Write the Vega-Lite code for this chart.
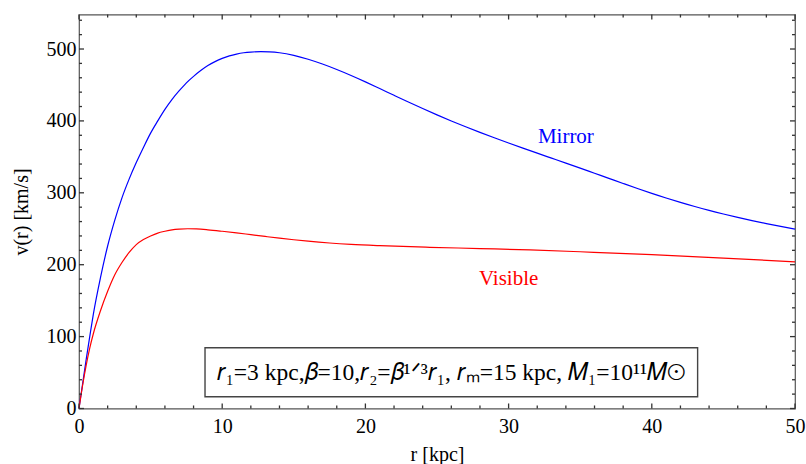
{
  "$schema": "https://vega.github.io/schema/vega-lite/v6.json",
  "width": 716,
  "height": 394,
  "autosize": {"type": "none"},
  "padding": {"left": 79, "top": 14.5, "right": 11, "bottom": 55.5},
  "background": "white",
  "config": {
    "view": {"stroke": "#555555", "strokeWidth": 1.2},
    "font": "Liberation Serif",
    "axis": {"grid": false, "domain": false, "ticks": false, "labelColor": "black", "titleColor": "black"}
  },
  "datasets": {
    "curves": [
      {"r": 0, "v": 0, "series": "Mirror"},
      {"r": 0.25, "v": 34, "series": "Mirror"},
      {"r": 0.5, "v": 68, "series": "Mirror"},
      {"r": 0.75, "v": 100, "series": "Mirror"},
      {"r": 1, "v": 131, "series": "Mirror"},
      {"r": 1.5, "v": 182, "series": "Mirror"},
      {"r": 2, "v": 226, "series": "Mirror"},
      {"r": 2.5, "v": 262, "series": "Mirror"},
      {"r": 3, "v": 293, "series": "Mirror"},
      {"r": 3.5, "v": 319, "series": "Mirror"},
      {"r": 4, "v": 342, "series": "Mirror"},
      {"r": 4.5, "v": 363, "series": "Mirror"},
      {"r": 5, "v": 383, "series": "Mirror"},
      {"r": 5.5, "v": 400, "series": "Mirror"},
      {"r": 6, "v": 416, "series": "Mirror"},
      {"r": 6.5, "v": 430, "series": "Mirror"},
      {"r": 7, "v": 442, "series": "Mirror"},
      {"r": 7.5, "v": 453, "series": "Mirror"},
      {"r": 8, "v": 462, "series": "Mirror"},
      {"r": 8.5, "v": 470, "series": "Mirror"},
      {"r": 9, "v": 477, "series": "Mirror"},
      {"r": 9.5, "v": 482.5, "series": "Mirror"},
      {"r": 10, "v": 487, "series": "Mirror"},
      {"r": 10.5, "v": 490.5, "series": "Mirror"},
      {"r": 11, "v": 493, "series": "Mirror"},
      {"r": 11.5, "v": 494.8, "series": "Mirror"},
      {"r": 12, "v": 495.8, "series": "Mirror"},
      {"r": 12.7, "v": 496.3, "series": "Mirror"},
      {"r": 13.3, "v": 496, "series": "Mirror"},
      {"r": 14, "v": 494.8, "series": "Mirror"},
      {"r": 15, "v": 491.2, "series": "Mirror"},
      {"r": 16, "v": 485.8, "series": "Mirror"},
      {"r": 17, "v": 479.1, "series": "Mirror"},
      {"r": 18, "v": 471.5, "series": "Mirror"},
      {"r": 19, "v": 463.2, "series": "Mirror"},
      {"r": 20, "v": 454.3, "series": "Mirror"},
      {"r": 21, "v": 445, "series": "Mirror"},
      {"r": 22, "v": 435.6, "series": "Mirror"},
      {"r": 23, "v": 426.3, "series": "Mirror"},
      {"r": 24, "v": 417.2, "series": "Mirror"},
      {"r": 25, "v": 408.4, "series": "Mirror"},
      {"r": 26, "v": 399.9, "series": "Mirror"},
      {"r": 27, "v": 391.8, "series": "Mirror"},
      {"r": 28, "v": 384, "series": "Mirror"},
      {"r": 29, "v": 376.5, "series": "Mirror"},
      {"r": 30, "v": 369.2, "series": "Mirror"},
      {"r": 31, "v": 362.1, "series": "Mirror"},
      {"r": 32, "v": 355.1, "series": "Mirror"},
      {"r": 33, "v": 348.2, "series": "Mirror"},
      {"r": 34, "v": 341.3, "series": "Mirror"},
      {"r": 35, "v": 334.3, "series": "Mirror"},
      {"r": 36, "v": 327.2, "series": "Mirror"},
      {"r": 37, "v": 320.1, "series": "Mirror"},
      {"r": 38, "v": 313, "series": "Mirror"},
      {"r": 39, "v": 306, "series": "Mirror"},
      {"r": 40, "v": 299.2, "series": "Mirror"},
      {"r": 41, "v": 292.8, "series": "Mirror"},
      {"r": 42, "v": 286.7, "series": "Mirror"},
      {"r": 43, "v": 280.9, "series": "Mirror"},
      {"r": 44, "v": 275.5, "series": "Mirror"},
      {"r": 45, "v": 270.5, "series": "Mirror"},
      {"r": 46, "v": 265.8, "series": "Mirror"},
      {"r": 47, "v": 261.4, "series": "Mirror"},
      {"r": 48, "v": 257.2, "series": "Mirror"},
      {"r": 49, "v": 253.3, "series": "Mirror"},
      {"r": 50, "v": 249.6, "series": "Mirror"},
      {"r": 0, "v": 0, "series": "Visible"},
      {"r": 0.25, "v": 32, "series": "Visible"},
      {"r": 0.5, "v": 60, "series": "Visible"},
      {"r": 0.75, "v": 84, "series": "Visible"},
      {"r": 1, "v": 104, "series": "Visible"},
      {"r": 1.5, "v": 136, "series": "Visible"},
      {"r": 2, "v": 163, "series": "Visible"},
      {"r": 2.5, "v": 186, "series": "Visible"},
      {"r": 3, "v": 203, "series": "Visible"},
      {"r": 3.5, "v": 217, "series": "Visible"},
      {"r": 4, "v": 228, "series": "Visible"},
      {"r": 4.5, "v": 235, "series": "Visible"},
      {"r": 5, "v": 240, "series": "Visible"},
      {"r": 5.5, "v": 244, "series": "Visible"},
      {"r": 6, "v": 246.5, "series": "Visible"},
      {"r": 6.5, "v": 248.5, "series": "Visible"},
      {"r": 7, "v": 249.5, "series": "Visible"},
      {"r": 7.6, "v": 250, "series": "Visible"},
      {"r": 8.2, "v": 249.7, "series": "Visible"},
      {"r": 9, "v": 248.5, "series": "Visible"},
      {"r": 10, "v": 246.5, "series": "Visible"},
      {"r": 11, "v": 244.3, "series": "Visible"},
      {"r": 12, "v": 241.8, "series": "Visible"},
      {"r": 13, "v": 239.3, "series": "Visible"},
      {"r": 14, "v": 236.9, "series": "Visible"},
      {"r": 15, "v": 234.7, "series": "Visible"},
      {"r": 16, "v": 232.7, "series": "Visible"},
      {"r": 17.5, "v": 230.2, "series": "Visible"},
      {"r": 19, "v": 228.3, "series": "Visible"},
      {"r": 21, "v": 226.5, "series": "Visible"},
      {"r": 24.5, "v": 224.2, "series": "Visible"},
      {"r": 28, "v": 222.5, "series": "Visible"},
      {"r": 31.5, "v": 220.6, "series": "Visible"},
      {"r": 35, "v": 218, "series": "Visible"},
      {"r": 40, "v": 214, "series": "Visible"},
      {"r": 45, "v": 209.2, "series": "Visible"},
      {"r": 50, "v": 204, "series": "Visible"}
    ],
    "rTicks": [
      {"t": 0, "kind": "major"}, {"t": 2, "kind": "minor"}, {"t": 4, "kind": "minor"}, {"t": 6, "kind": "minor"}, {"t": 8, "kind": "minor"},
      {"t": 10, "kind": "major"}, {"t": 12, "kind": "minor"}, {"t": 14, "kind": "minor"}, {"t": 16, "kind": "minor"}, {"t": 18, "kind": "minor"},
      {"t": 20, "kind": "major"}, {"t": 22, "kind": "minor"}, {"t": 24, "kind": "minor"}, {"t": 26, "kind": "minor"}, {"t": 28, "kind": "minor"},
      {"t": 30, "kind": "major"}, {"t": 32, "kind": "minor"}, {"t": 34, "kind": "minor"}, {"t": 36, "kind": "minor"}, {"t": 38, "kind": "minor"},
      {"t": 40, "kind": "major"}, {"t": 42, "kind": "minor"}, {"t": 44, "kind": "minor"}, {"t": 46, "kind": "minor"}, {"t": 48, "kind": "minor"},
      {"t": 50, "kind": "major"}
    ],
    "vTicks": [
      {"t": 0, "kind": "major"}, {"t": 20, "kind": "minor"}, {"t": 40, "kind": "minor"}, {"t": 60, "kind": "minor"}, {"t": 80, "kind": "minor"},
      {"t": 100, "kind": "major"}, {"t": 120, "kind": "minor"}, {"t": 140, "kind": "minor"}, {"t": 160, "kind": "minor"}, {"t": 180, "kind": "minor"},
      {"t": 200, "kind": "major"}, {"t": 220, "kind": "minor"}, {"t": 240, "kind": "minor"}, {"t": 260, "kind": "minor"}, {"t": 280, "kind": "minor"},
      {"t": 300, "kind": "major"}, {"t": 320, "kind": "minor"}, {"t": 340, "kind": "minor"}, {"t": 360, "kind": "minor"}, {"t": 380, "kind": "minor"},
      {"t": 400, "kind": "major"}, {"t": 420, "kind": "minor"}, {"t": 440, "kind": "minor"}, {"t": 460, "kind": "minor"}, {"t": 480, "kind": "minor"},
      {"t": 500, "kind": "major"}, {"t": 520, "kind": "minor"}, {"t": 540, "kind": "minor"}
    ]
  },
  "layer": [
    {
      "data": {"name": "curves"},
      "mark": {"type": "line", "strokeWidth": 1.2, "interpolate": "monotone"},
      "encoding": {
        "x": {"field": "r", "type": "quantitative", "scale": {"domain": [0, 50], "nice": false, "zero": false},
              "axis": {"orient": "bottom", "values": [0, 10, 20, 30, 40, 50], "labelPadding": 7.5, "labelFontSize": 20, "labelFlush": false, "labelOverlap": false,
                       "title": "r [kpc]", "titleFontSize": 20, "titleFontWeight": "normal", "titlePadding": 8}},
        "y": {"field": "v", "type": "quantitative", "scale": {"domain": [0, 548], "nice": false},
              "axis": {"orient": "left", "values": [0, 100, 200, 300, 400, 500], "labelPadding": 3, "labelFontSize": 20, "labelOverlap": false,
                       "title": "v(r) [km/s]", "titleFontSize": 20, "titleFontWeight": "normal", "titlePadding": 15}},
        "color": {"field": "series", "type": "nominal", "scale": {"domain": ["Mirror", "Visible"], "range": ["#0000ff", "#ff0000"]}, "legend": null}
      }
    },
    {
      "data": {"name": "rTicks"},
      "transform": [{"filter": "datum.kind === 'major'"}],
      "mark": {"type": "rule", "color": "#333333", "strokeWidth": 1.3},
      "encoding": {
        "x": {"field": "t", "type": "quantitative", "axis": null},
        "y": {"datum": 0, "type": "quantitative", "axis": null},
        "y2": {"datum": 7}
      }
    },
    {
      "data": {"name": "rTicks"},
      "transform": [{"filter": "datum.kind === 'minor'"}],
      "mark": {"type": "rule", "color": "#333333", "strokeWidth": 1.3},
      "encoding": {
        "x": {"field": "t", "type": "quantitative", "axis": null},
        "y": {"datum": 0, "type": "quantitative", "axis": null},
        "y2": {"datum": 4.2}
      }
    },
    {
      "data": {"name": "rTicks"},
      "transform": [{"filter": "datum.kind === 'major'"}],
      "mark": {"type": "rule", "color": "#333333", "strokeWidth": 1.3},
      "encoding": {
        "x": {"field": "t", "type": "quantitative", "axis": null},
        "y": {"datum": 548, "type": "quantitative", "axis": null},
        "y2": {"datum": 541}
      }
    },
    {
      "data": {"name": "rTicks"},
      "transform": [{"filter": "datum.kind === 'minor'"}],
      "mark": {"type": "rule", "color": "#333333", "strokeWidth": 1.3},
      "encoding": {
        "x": {"field": "t", "type": "quantitative", "axis": null},
        "y": {"datum": 548, "type": "quantitative", "axis": null},
        "y2": {"datum": 543.8}
      }
    },
    {
      "data": {"name": "vTicks"},
      "transform": [{"filter": "datum.kind === 'major'"}],
      "mark": {"type": "rule", "color": "#333333", "strokeWidth": 1.3},
      "encoding": {
        "y": {"field": "t", "type": "quantitative", "axis": null},
        "x": {"datum": 0, "type": "quantitative", "axis": null},
        "x2": {"datum": 0.35}
      }
    },
    {
      "data": {"name": "vTicks"},
      "transform": [{"filter": "datum.kind === 'minor'"}],
      "mark": {"type": "rule", "color": "#333333", "strokeWidth": 1.3},
      "encoding": {
        "y": {"field": "t", "type": "quantitative", "axis": null},
        "x": {"datum": 0, "type": "quantitative", "axis": null},
        "x2": {"datum": 0.21}
      }
    },
    {
      "data": {"name": "vTicks"},
      "transform": [{"filter": "datum.kind === 'major'"}],
      "mark": {"type": "rule", "color": "#333333", "strokeWidth": 1.3},
      "encoding": {
        "y": {"field": "t", "type": "quantitative", "axis": null},
        "x": {"datum": 50, "type": "quantitative", "axis": null},
        "x2": {"datum": 49.65}
      }
    },
    {
      "data": {"name": "vTicks"},
      "transform": [{"filter": "datum.kind === 'minor'"}],
      "mark": {"type": "rule", "color": "#333333", "strokeWidth": 1.3},
      "encoding": {
        "y": {"field": "t", "type": "quantitative", "axis": null},
        "x": {"datum": 50, "type": "quantitative", "axis": null},
        "x2": {"datum": 49.79}
      }
    },
    {
      "data": {"values": [{}]},
      "mark": {"type": "rect", "fill": "white", "stroke": "#444444", "strokeWidth": 1.4},
      "encoding": {
        "x": {"datum": 8.8, "type": "quantitative", "axis": null},
        "x2": {"datum": 43.2},
        "y": {"datum": 16.3, "type": "quantitative", "axis": null},
        "y2": {"datum": 84.5}
      }
    },
    {
      "data": {"values": [{}]},
      "mark": {"type": "text", "text": "𝑟₁=3 kpc,𝛽=10,𝑟₂=𝛽¹ᐟ³𝑟₁, 𝑟ₘ=15 kpc, 𝑀₁=10¹¹𝑀⊙", "fontSize": 23.5, "font": "Liberation Serif", "align": "center", "baseline": "middle", "color": "black"},
      "encoding": {
        "x": {"datum": 26, "type": "quantitative", "axis": null},
        "y": {"datum": 49, "type": "quantitative", "axis": null}
      }
    },
    {
      "data": {"values": [{}]},
      "mark": {"type": "text", "text": "Mirror", "fontSize": 21, "font": "Liberation Serif", "align": "center", "baseline": "middle", "color": "#0000ff"},
      "encoding": {
        "x": {"datum": 34, "type": "quantitative", "axis": null},
        "y": {"datum": 378, "type": "quantitative", "axis": null}
      }
    },
    {
      "data": {"values": [{}]},
      "mark": {"type": "text", "text": "Visible", "fontSize": 21, "font": "Liberation Serif", "align": "center", "baseline": "middle", "color": "#ff0000"},
      "encoding": {
        "x": {"datum": 30, "type": "quantitative", "axis": null},
        "y": {"datum": 180, "type": "quantitative", "axis": null}
      }
    }
  ],
  "resolve": {"axis": {"x": "independent", "y": "independent"}}
}
